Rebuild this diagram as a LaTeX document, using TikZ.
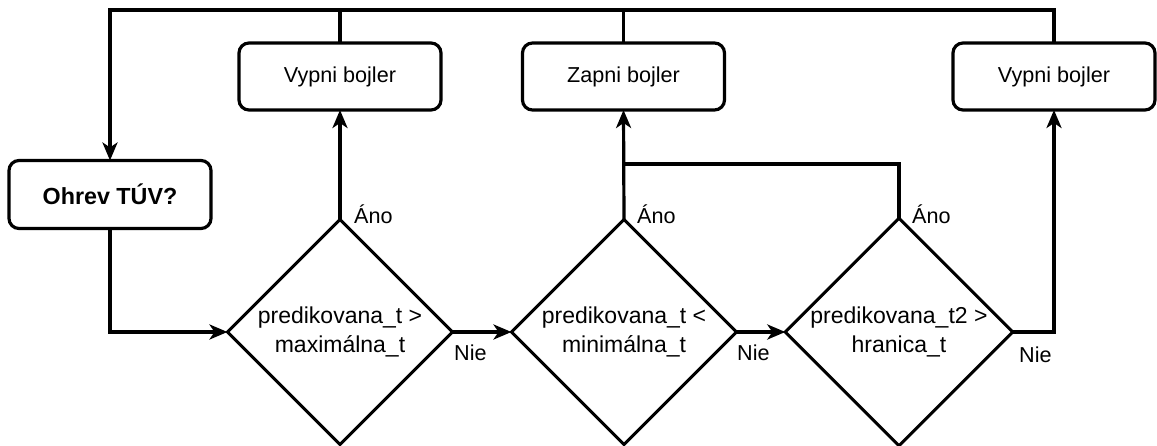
\documentclass[tikz,border=0pt]{standalone}
\usepackage{fontspec}
\setmainfont{Liberation Sans}
\usetikzlibrary{shapes.geometric,arrows.meta}
\tikzset{
  ln/.style={line width=3.2pt},
  arr/.style={ln, -{Stealth[length=18pt,width=15pt,inset=5pt]}},
  procbox/.style={draw, ln, rounded corners=10pt, minimum width=202pt, minimum height=67pt, inner sep=0pt, outer sep=0pt, font=\fontsize{21.6}{25}\selectfont},
  decide/.style={draw, line width=3pt, shape=diamond, aspect=1, minimum width=225pt, minimum height=225pt, inner sep=0pt, outer sep=0pt, align=center, font=\fontsize{23}{29}\selectfont},
  lbl/.style={inner sep=0pt, anchor=west, font=\fontsize{21.6}{25}\selectfont}
}
\begin{document}
\begin{tikzpicture}[x=1pt,y=-1pt]
\useasboundingbox (0,0) rectangle (1157,446);
\node[procbox, font=\bfseries\fontsize{23.3}{28}\selectfont, minimum height=68pt] (ohrev) at (110,194.5) {Ohrev TÚV?};
\node[procbox] (v1) at (340,76.5) {Vypni bojler};
\node[procbox] (z) at (623.5,76.5) {Zapni bojler};
\node[procbox] (v2) at (1054,76.5) {Vypni bojler};
\node[decide] (d1) at (340,332) {predikovana\_t >\\maximálna\_t};
\node[decide] (d2) at (624,332) {predikovana\_t <\\minimálna\_t};
\node[decide] (d3) at (899,332) {predikovana\_t2 >\\hranica\_t};
\coordinate (top) at (0,10);
\coordinate (j) at (623.5,164);
% connectors
\draw[arr] (ohrev.south) |- (d1.west);
\draw[arr] (d1.north) -- (v1.south);
\draw[arr] (d1.east) -- (d2.west);
\draw[arr] (d2.east) -- (d3.west);
\draw[arr] (d2.north) -- (z.south);
\draw[ln] (d3.north) |- (j);
\draw[arr] (d3.east) -| (v2.south);
\draw[arr] (v2.north) -- (v2.north |- top) -| (ohrev.north);
\draw[ln] (v1.north) -- (v1.north |- top);
\draw[ln] (z.north) -- (z.north |- top);
% labels
\node[lbl] (a1) at (354,214) {Áno};
\node[lbl] (a2) at (637,214) {Áno};
\node[lbl] (a3) at (912,214) {Áno};
\node[lbl] (n1) at (454,353) {Nie};
\node[lbl] (n2) at (737,353) {Nie};
\node[lbl] (n3) at (1019,355) {Nie};
\end{tikzpicture}
\end{document}
